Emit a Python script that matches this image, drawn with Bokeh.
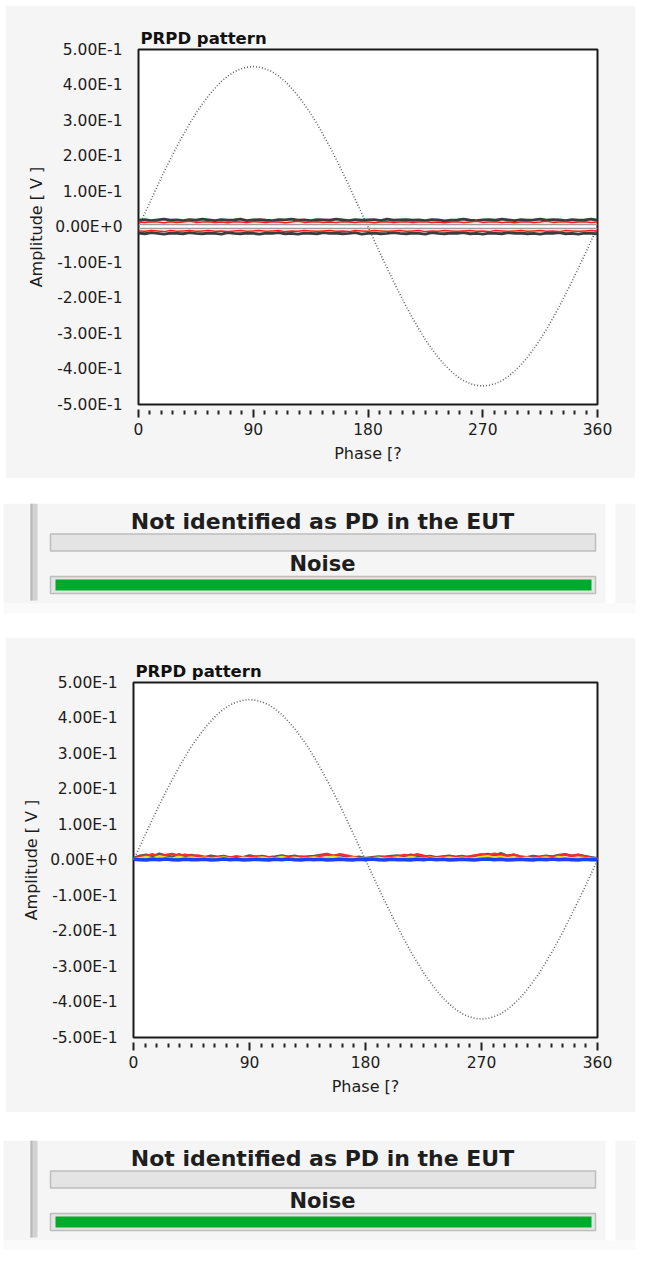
from bokeh.plotting import figure
from bokeh.layouts import column
from bokeh.models import Range1d, FixedTicker
from bokeh.embed import file_html
from bokeh.resources import INLINE

# ---------------- data ----------------
phase = [0, 5, 10, 15, 20, 25, 30, 35, 40, 45,
         50, 55, 60, 65, 70, 75, 80, 85, 90, 95,
         100, 105, 110, 115, 120, 125, 130, 135, 140, 145,
         150, 155, 160, 165, 170, 175, 180, 185, 190, 195,
         200, 205, 210, 215, 220, 225, 230, 235, 240, 245,
         250, 255, 260, 265, 270, 275, 280, 285, 290, 295,
         300, 305, 310, 315, 320, 325, 330, 335, 340, 345,
         350, 355, 360]

# reference voltage trace (dotted sine)
sine_ref = [0.000, 0.039, 0.078, 0.117, 0.155, 0.191, 0.226, 0.259, 0.291, 0.320,
            0.346, 0.370, 0.391, 0.410, 0.425, 0.437, 0.445, 0.450, 0.452, 0.450,
            0.445, 0.437, 0.425, 0.410, 0.391, 0.370, 0.346, 0.320, 0.291, 0.259,
            0.226, 0.191, 0.155, 0.117, 0.078, 0.039, 0.000, -0.039, -0.078, -0.116,
            -0.153, -0.189, -0.224, -0.257, -0.288, -0.317, -0.343, -0.367, -0.388, -0.406,
            -0.421, -0.433, -0.441, -0.446, -0.448, -0.446, -0.441, -0.433, -0.421, -0.406,
            -0.388, -0.367, -0.343, -0.317, -0.288, -0.257, -0.224, -0.189, -0.153, -0.116,
            -0.078, -0.039, 0.000]

# chart 1 noise clusters
ch1_pos_dark = [0.019, 0.021, 0.018, 0.020, 0.022, 0.019, 0.020, 0.018, 0.021, 0.019,
                0.022, 0.020, 0.018, 0.021, 0.019, 0.020, 0.022, 0.018, 0.020, 0.021,
                0.019, 0.018, 0.021, 0.020, 0.022, 0.019, 0.020, 0.018, 0.021, 0.020,
                0.019, 0.022, 0.020, 0.018, 0.021, 0.019, 0.020, 0.021, 0.018, 0.022,
                0.019, 0.020, 0.021, 0.019, 0.020, 0.018, 0.021, 0.020, 0.017, 0.019,
                0.020, 0.022, 0.019, 0.018, 0.020, 0.021, 0.019, 0.022, 0.020, 0.018,
                0.021, 0.019, 0.020, 0.022, 0.019, 0.021, 0.020, 0.018, 0.021, 0.019,
                0.020, 0.022, 0.019]
ch1_pos_red = [0.014, 0.013, 0.015, 0.014, 0.012, 0.015, 0.013, 0.014, 0.016, 0.013,
               0.014, 0.015, 0.013, 0.014, 0.012, 0.015, 0.014, 0.013, 0.015, 0.014,
               0.013, 0.015, 0.014, 0.012, 0.014, 0.016, 0.013, 0.014, 0.015, 0.013,
               0.014, 0.013, 0.015, 0.014, 0.013, 0.015, 0.014, 0.012, 0.014, 0.015,
               0.013, 0.014, 0.015, 0.013, 0.014, 0.015, 0.013, 0.014, 0.012, 0.014,
               0.015, 0.013, 0.014, 0.016, 0.013, 0.014, 0.015, 0.013, 0.014, 0.012,
               0.014, 0.015, 0.013, 0.014, 0.016, 0.013, 0.014, 0.015, 0.013, 0.014,
               0.015, 0.013, 0.014]
ch1_neg_red = [-0.011, -0.012, -0.010, -0.011, -0.013, -0.010, -0.012, -0.011, -0.010, -0.012,
               -0.011, -0.010, -0.012, -0.011, -0.013, -0.011, -0.010, -0.012, -0.011, -0.010,
               -0.012, -0.011, -0.010, -0.013, -0.011, -0.012, -0.010, -0.011, -0.012, -0.011,
               -0.010, -0.012, -0.011, -0.013, -0.010, -0.011, -0.012, -0.010, -0.011, -0.012,
               -0.011, -0.010, -0.012, -0.011, -0.010, -0.013, -0.011, -0.012, -0.010, -0.011,
               -0.012, -0.011, -0.010, -0.012, -0.011, -0.013, -0.010, -0.011, -0.012, -0.011,
               -0.010, -0.012, -0.011, -0.010, -0.012, -0.011, -0.013, -0.010, -0.011, -0.012,
               -0.011, -0.010, -0.012]
ch1_neg_dark = [-0.017, -0.019, -0.016, -0.018, -0.020, -0.017, -0.018, -0.019, -0.016, -0.018,
                -0.019, -0.017, -0.018, -0.020, -0.016, -0.018, -0.019, -0.017, -0.018, -0.020,
                -0.017, -0.018, -0.016, -0.019, -0.018, -0.020, -0.017, -0.018, -0.019, -0.016,
                -0.018, -0.017, -0.019, -0.018, -0.016, -0.020, -0.018, -0.017, -0.019, -0.018,
                -0.016, -0.018, -0.019, -0.017, -0.018, -0.020, -0.016, -0.018, -0.019, -0.017,
                -0.018, -0.016, -0.019, -0.018, -0.020, -0.017, -0.018, -0.019, -0.016, -0.018,
                -0.017, -0.019, -0.018, -0.020, -0.017, -0.018, -0.016, -0.019, -0.018, -0.020,
                -0.017, -0.018, -0.019]
ch1_thresholds = [0.006, -0.005]

# chart 2 noise clusters
ch2_dark = [0.006, 0.012, 0.015, 0.010, 0.018, 0.013, 0.009, 0.016, 0.011, 0.014,
            0.010, 0.008, 0.012, 0.009, 0.011, 0.007, 0.010, 0.008, 0.013, 0.009,
            0.011, 0.008, 0.010, 0.013, 0.009, 0.012, 0.008, 0.010, 0.011, 0.014,
            0.017, 0.012, 0.014, 0.010, 0.007, 0.009, 0.006, 0.008, 0.010, 0.009,
            0.011, 0.013, 0.010, 0.015, 0.012, 0.009, 0.011, 0.008, 0.010, 0.012,
            0.009, 0.011, 0.008, 0.012, 0.014, 0.017, 0.013, 0.019, 0.012, 0.015,
            0.010, 0.008, 0.011, 0.009, 0.012, 0.010, 0.014, 0.016, 0.012, 0.015,
            0.011, 0.008, 0.005]
ch2_red = [0.004, 0.008, 0.012, 0.016, 0.010, 0.014, 0.017, 0.012, 0.015, 0.011,
           0.013, 0.009, 0.006, 0.008, 0.005, 0.007, 0.009, 0.006, 0.008, 0.010,
           0.006, 0.008, 0.005, 0.007, 0.009, 0.006, 0.010, 0.007, 0.008, 0.012,
           0.015, 0.011, 0.016, 0.013, 0.009, 0.006, 0.004, 0.006, 0.005, 0.008,
           0.007, 0.010, 0.014, 0.011, 0.016, 0.012, 0.008, 0.006, 0.009, 0.007,
           0.008, 0.006, 0.010, 0.013, 0.016, 0.012, 0.018, 0.014, 0.011, 0.015,
           0.009, 0.007, 0.006, 0.008, 0.010, 0.007, 0.012, 0.015, 0.011, 0.014,
           0.010, 0.006, 0.004]
ch2_yellow = [0.003, 0.006, 0.009, 0.005, 0.011, 0.007, 0.004, 0.010, 0.006, 0.008,
              0.005, 0.007, 0.004, 0.006, 0.008, 0.005, 0.003, 0.007, 0.005, 0.006,
              0.008, 0.004, 0.006, 0.009, 0.005, 0.007, 0.004, 0.006, 0.008, 0.005,
              0.007, 0.010, 0.006, 0.004, 0.007, 0.005, 0.003, 0.005, 0.007, 0.004,
              0.006, 0.008, 0.005, 0.009, 0.006, 0.004, 0.007, 0.005, 0.006, 0.008,
              0.005, 0.007, 0.004, 0.006, 0.009, 0.011, 0.007, 0.010, 0.006, 0.008,
              0.005, 0.007, 0.004, 0.006, 0.008, 0.005, 0.009, 0.006, 0.004, 0.007,
              0.006, 0.004, 0.003]
ch2_green = [0.002, 0.004, 0.003, 0.006, 0.002, 0.005, 0.003, 0.004, 0.002, 0.005,
             0.003, 0.004, 0.002, 0.003, 0.005, 0.002, 0.004, 0.003, 0.002, 0.004,
             0.003, 0.005, 0.002, 0.004, 0.003, 0.002, 0.005, 0.003, 0.004, 0.002,
             0.004, 0.003, 0.005, 0.002, 0.003, 0.004, 0.002, 0.003, 0.005, 0.002,
             0.003, 0.004, 0.002, 0.005, 0.003, 0.004, 0.002, 0.003, 0.004, 0.002,
             0.004, 0.003, 0.005, 0.002, 0.004, 0.006, 0.003, 0.005, 0.002, 0.004,
             0.003, 0.002, 0.004, 0.003, 0.005, 0.002, 0.004, 0.003, 0.005, 0.002,
             0.003, 0.004, 0.002]
ch2_blue = [0.002, 0.001, 0.000, 0.002, 0.001, 0.003, 0.001, 0.000, 0.002, 0.001,
            0.001, 0.002, 0.000, 0.001, 0.003, 0.001, 0.002, 0.000, 0.001, 0.002,
            0.001, 0.000, 0.002, 0.001, 0.003, 0.001, 0.000, 0.002, 0.001, 0.002,
            0.000, 0.001, 0.002, 0.001, 0.000, 0.002, 0.001, 0.003, 0.001, 0.000,
            0.002, 0.001, 0.001, 0.000, 0.002, 0.001, 0.003, 0.001, 0.002, 0.000,
            0.001, 0.002, 0.001, 0.000, 0.002, 0.003, 0.001, 0.002, 0.000, 0.001,
            0.002, 0.001, 0.000, 0.002, 0.001, 0.003, 0.001, 0.002, 0.001, 0.000,
            0.002, 0.001, 0.001]

# axes
x_ticks = [0, 90, 180, 270, 360]
x_minor_ticks = [9, 18, 27, 36, 45, 54, 63, 72, 81,
                 99, 108, 117, 126, 135, 144, 153, 162, 171,
                 189, 198, 207, 216, 225, 234, 243, 252, 261,
                 279, 288, 297, 306, 315, 324, 333, 342, 351]
y_ticks = [0.5, 0.4, 0.3, 0.2, 0.1, 0.0, -0.1, -0.2, -0.3, -0.4, -0.5]
y_tick_labels = ["5.00E-1", "4.00E-1", "3.00E-1", "2.00E-1", "1.00E-1", "0.00E+0",
                 "-1.00E-1", "-2.00E-1", "-3.00E-1", "-4.00E-1", "-5.00E-1"]

# status indicators
status_names = ["Not identified as PD in the EUT", "Noise"]
status_levels = [0.0, 1.0]

# ---------------- styling ----------------
PANEL_BG = "#f5f5f5"
FONT = "DejaVu Sans"
TXT = "#1c1c1c"


def make_chart(height, left, top, bottom, series, thresholds, margin):
    p = figure(width=630, height=height, output_backend="svg", toolbar_location=None,
               x_range=Range1d(0, 360), y_range=Range1d(-0.5, 0.5),
               min_border_left=left, min_border_right=38,
               min_border_top=top, min_border_bottom=bottom,
               title="PRPD pattern", frame_align=False, margin=margin,
               background_fill_color="white", border_fill_color=PANEL_BG)
    p.xgrid.visible = False
    p.ygrid.visible = False
    p.outline_line_color = "#1a1a1a"
    p.outline_line_width = 2

    p.title.text_font = FONT
    p.title.text_font_size = "16.5px"
    p.title.text_font_style = "bold"
    p.title.text_color = "#111111"
    p.title.align = "left"
    p.title.offset = 2
    p.title.standoff = 3

    xa = p.xaxis[0]
    xa.ticker = FixedTicker(ticks=x_ticks, minor_ticks=x_minor_ticks)
    xa.axis_line_color = None
    xa.major_tick_in = -5
    xa.major_tick_out = 13
    xa.minor_tick_in = -6
    xa.minor_tick_out = 10
    xa.major_tick_line_color = "#222222"
    xa.minor_tick_line_color = "#222222"
    xa.major_tick_line_width = 2
    xa.minor_tick_line_width = 2
    xa.major_label_standoff = 5
    xa.major_label_text_font = FONT
    xa.major_label_text_font_size = "15.5px"
    xa.major_label_text_color = TXT
    xa.axis_label = "Phase [?"
    xa.axis_label_standoff = 6
    xa.axis_label_text_font = FONT
    xa.axis_label_text_font_size = "16px"
    xa.axis_label_text_font_style = "normal"
    xa.axis_label_text_color = TXT

    ya = p.yaxis[0]
    ya.ticker = FixedTicker(ticks=y_ticks)
    ya.major_label_overrides = dict(zip(y_ticks, y_tick_labels))
    ya.axis_line_color = None
    ya.major_tick_line_color = None
    ya.minor_tick_line_color = None
    ya.major_tick_in = 0
    ya.major_tick_out = 0
    ya.major_label_standoff = 16
    ya.major_label_text_font = FONT
    ya.major_label_text_font_size = "15.5px"
    ya.major_label_text_color = TXT
    ya.axis_label = "Amplitude [ V ]"
    ya.axis_label_standoff = 6
    ya.axis_label_text_font = FONT
    ya.axis_label_text_font_size = "16px"
    ya.axis_label_text_font_style = "normal"
    ya.axis_label_text_color = TXT

    p.line(phase, sine_ref, line_color="#666666", line_width=1.6, line_dash="1 2")
    if thresholds:
        p.hspan(y=thresholds, line_color="#9a9a9a", line_width=1.5)
    for vals, color, width in series:
        p.line(phase, vals, line_color=color, line_width=width)
    return p


def make_status(height, names, levels, margin):
    W = 640
    inner_l, inner_r = 55, 591          # pixel span of a full-scale bar
    span = inner_r - inner_l

    def px(v):
        return (v - inner_l) / span

    p = figure(width=W, height=height, output_backend="svg", toolbar_location=None,
               x_range=Range1d(px(0), px(W)), y_range=Range1d(height, 0),
               min_border=0, frame_align=False, margin=margin,
               background_fill_color="white", border_fill_color="white")
    p.axis.visible = False
    p.xgrid.visible = False
    p.ygrid.visible = False
    p.outline_line_color = None

    # panel decoration
    p.quad(left=[px(3)], right=[px(635)], top=[100], bottom=[110], fill_color="#fafafa", line_color=None)
    p.quad(left=[px(3)], right=[px(605)], top=[0], bottom=[100], fill_color=PANEL_BG, line_color=None)
    p.quad(left=[px(615)], right=[px(635)], top=[0], bottom=[100], fill_color="#f6f6f6", line_color=None)
    p.quad(left=[px(30)], right=[px(37)], top=[0], bottom=[97], fill_color="#d2d2d2", line_color=None)
    p.quad(left=[px(30)], right=[px(32)], top=[0], bottom=[97], fill_color="#b8b8b8", line_color=None)

    text_y = [17.5, 60.5]
    text_size = ["22px", "21px"]
    track_y = [39, 81.5]
    p.rect(x=[px((50 + 595) / 2)] * 2, y=track_y, width=px(595) - px(50), height=17,
           fill_color="#e4e4e4", line_color="#bdbdbd", line_width=1.5)
    p.hbar(y=track_y, height=11, left=0, right=levels, fill_color="#00aa2b", line_color=None)
    p.text(x=[px(322)] * len(names), y=text_y, text=names, text_align="center", text_baseline="middle",
           text_font={"value": FONT}, text_font_size=text_size, text_font_style="bold",
           text_color="#1e1e1e")
    return p


chart1 = make_chart(473, 133, 44, 74, [
    (ch1_pos_dark, "#3c3c3c", 2.8),
    (ch1_pos_red, "#ff1a1a", 1.5),
    (ch1_neg_dark, "#3c3c3c", 2.8),
    (ch1_neg_red, "#ff1a1a", 1.5),
], ch1_thresholds, (5, 0, 0, 5))

status1 = make_status(110, status_names, status_levels, (25, 0, 0, 0))

chart2 = make_chart(475, 128, 45, 75, [
    (ch2_dark, "#5a5a5a", 2.5),
    (ch2_red, "#ff2a2a", 2.5),
    (ch2_yellow, "#e6dc1e", 2),
    (ch2_green, "#22bb33", 1.2),
    (ch2_blue, "#1f3fff", 3.5),
], None, (24, 0, 0, 5))

status2 = make_status(110, status_names, status_levels, (28, 0, 0, 0))

layout = column(chart1, status1, chart2, status2, spacing=0)

open("out.html", "w").write(file_html(layout, INLINE))
